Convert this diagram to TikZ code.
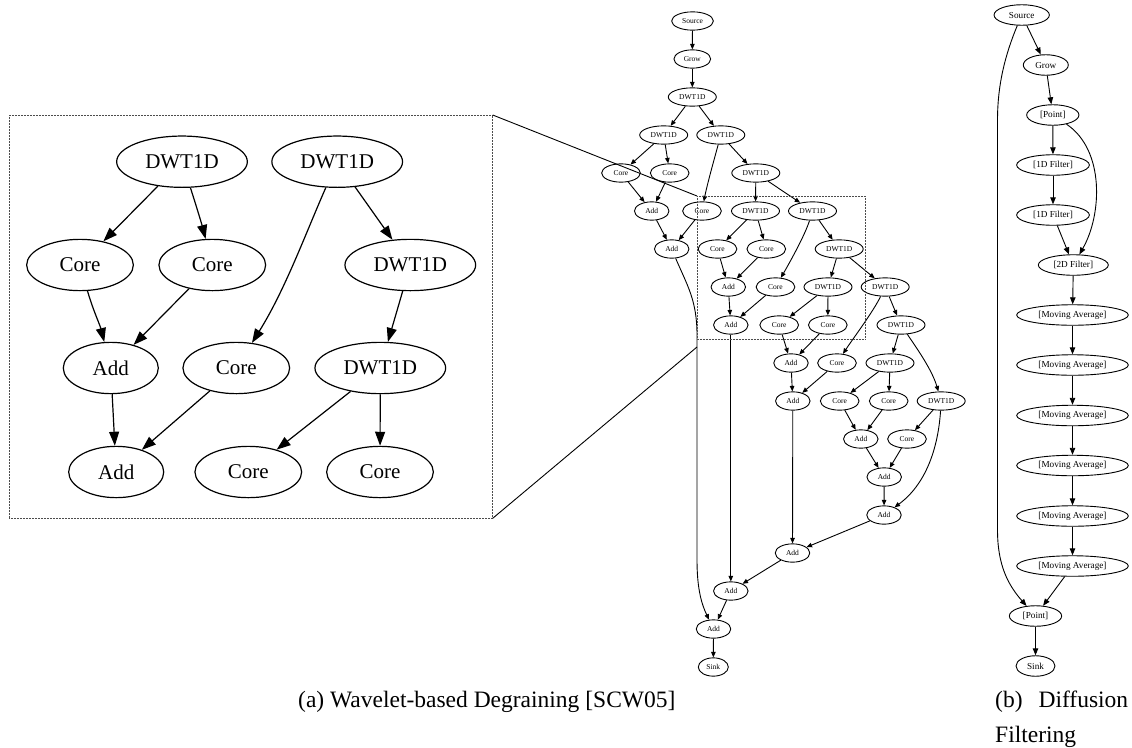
\documentclass[tikz,border=0pt]{standalone}
\usepackage{fontspec}
\setmainfont{Liberation Serif}
\usetikzlibrary{shapes.geometric,arrows.meta}

\begin{document}
\begin{tikzpicture}[x=1pt,y=-1pt,
  % ---- node looks ----
  nd/.style={ellipse,draw,line width=0.9pt,inner sep=0pt},
  sm/.style={nd,minimum height=18.3pt,font=\fontsize{7.5}{9}\selectfont},
  dwt/.style={sm,minimum width=48pt},
  core/.style={sm,minimum width=38.7pt},
  add/.style={sm,minimum width=34.5pt},
  rg/.style={nd,minimum height=20.5pt,font=\fontsize{9.2}{11}\selectfont},
  big/.style={nd,line width=1.2pt,minimum height=51.3pt,font=\fontsize{21}{25}\selectfont},
  bdwt/.style={big,minimum width=130.7pt},
  bcore/.style={big,minimum width=106.7pt},
  badd/.style={big,minimum width=95pt},
  % ---- connector looks ----
  e/.style={-{Triangle[length=5.5pt,width=4.5pt]},line width=0.9pt},
  re/.style={-{Triangle[length=7pt,width=5.5pt]},line width=0.9pt},
  ie/.style={-{Triangle[length=14pt,width=10pt]},line width=1.2pt},
  zframe/.style={draw=black!70,line width=1pt,dash pattern=on 0.8pt off 0.7pt},
  guide/.style={line width=0.9pt},
  captxt/.style={anchor=base west,inner sep=0pt,font=\fontsize{23.5}{28}\selectfont}
]
\useasboundingbox (0,0) rectangle (1132,747);

% ================= wavelet graph =================
\node[sm,minimum width=41.7pt] (src)  at (692.5,21)  {Source};
\node[sm,minimum width=36.7pt] (grow) at (692.3,59)  {Grow};
\node[dwt]  (d1)   at (692.3,97)  {DWT1D};
\node[dwt]  (d2a)  at (663.7,135) {DWT1D};
\node[dwt]  (d2b)  at (720.8,135) {DWT1D};
\node[core] (c3a)  at (621,173)   {Core};
\node[core] (c3b)  at (669.7,173) {Core};
\node[dwt]  (d3c)  at (755.8,173) {DWT1D};
\node[add]  (a4a)  at (651.7,211) {Add};
\node[core] (c4b)  at (702,211)   {Core};
\node[dwt]  (d4c)  at (755.5,211) {DWT1D};
\node[dwt]  (d4d)  at (812.5,211) {DWT1D};
\node[add]  (a5a)  at (671.7,249) {Add};
\node[core] (c5b)  at (717.5,249) {Core};
\node[core] (c5c)  at (766.3,249) {Core};
\node[dwt]  (d5d)  at (839.2,249) {DWT1D};
\node[add]  (a6a)  at (728.3,287) {Add};
\node[core] (c6b)  at (775.5,287) {Core};
\node[dwt]  (d6c)  at (828,287)   {DWT1D};
\node[dwt]  (d6d)  at (885.2,287) {DWT1D};
\node[add]  (a7a)  at (730.8,325) {Add};
\node[core] (c7b)  at (779.2,325) {Core};
\node[core] (c7c)  at (827.8,325) {Core};
\node[dwt]  (d7d)  at (901,325)   {DWT1D};
\node[add]  (a8a)  at (791,363)   {Add};
\node[core] (c8b)  at (837,363)   {Core};
\node[dwt]  (d8c)  at (890,363)   {DWT1D};
\node[add]  (a9a)  at (792.8,401) {Add};
\node[core] (c9b)  at (839.7,401) {Core};
\node[core] (c9c)  at (888.7,401) {Core};
\node[dwt]  (d9d)  at (941.2,401) {DWT1D};
\node[add]  (a10a) at (860.8,439) {Add};
\node[core] (c10b) at (907,439)   {Core};
\node[add]  (a11)  at (884.2,477) {Add};
\node[add]  (a12)  at (884,515)   {Add};
\node[add]  (a13)  at (792.5,553) {Add};
\node[add]  (a14)  at (730.8,591) {Add};
\node[add]  (a15)  at (713.5,629) {Add};
\node[sm,minimum width=30pt] (sink) at (713.3,667) {Sink};

\draw[e] (src) -- (grow);
\draw[e] (grow) -- (d1);
\draw[e] (d1) -- (d2a);
\draw[e] (d1) -- (d2b);
\draw[e] (d2a) -- (c3a);
\draw[e] (d2a) -- (c3b);
\draw[e] (d2b) -- (d3c);
\draw[e] (d2b) .. controls (714,160) and (707,185) .. (c4b);
\draw[e] (c3a) -- (a4a);
\draw[e] (c3b) -- (a4a);
\draw[e] (a4a) -- (a5a);
\draw[e] (c4b) -- (a5a);
\draw[e] (d3c) -- (d4c);
\draw[e] (d3c) -- (d4d);
\draw[e] (d4c) -- (c5b);
\draw[e] (d4c) -- (c5c);
\draw[e] (d4d) -- (d5d);
\draw[e] (d4d) .. controls (805,235) and (790,262) .. (c6b);
\draw[e] (c5b) -- (a6a);
\draw[e] (c5c) -- (a6a);
\draw[e] (a6a) -- (a7a);
\draw[e] (c6b) -- (a7a);
\draw[e] (d5d) -- (d6c);
\draw[e] (d5d) -- (d6d);
\draw[e] (d6c) -- (c7b);
\draw[e] (d6c) -- (c7c);
\draw[e] (d6d) -- (d7d);
\draw[e] (d6d) .. controls (873,312) and (852,340) .. (c8b);
\draw[e] (c7b) -- (a8a);
\draw[e] (c7c) -- (a8a);
\draw[e] (a8a) -- (a9a);
\draw[e] (c8b) -- (a9a);
\draw[e] (d7d) -- (d8c);
\draw[e] (d7d) .. controls (918,350) and (932,370) .. (d9d);
\draw[e] (d8c) -- (c9b);
\draw[e] (d8c) -- (c9c);
\draw[e] (c9b) -- (a10a);
\draw[e] (c9c) -- (a10a);
\draw[e] (d9d) -- (c10b);
\draw[e] (a10a) -- (a11);
\draw[e] (c10b) -- (a11);
\draw[e] (a11) -- (a12);
\draw[e] (d9d) .. controls (938,450) and (925,485) .. (a12);
\draw[e] (a12) -- (a13);
\draw[e] (a9a) -- (a13);
\draw[e] (a13) -- (a14);
\draw[e] (a7a) -- (a14);
\draw[e] (a14) -- (a15);
\draw[e] (a5a) .. controls (687,285) and (697,300) .. (697,335)
  -- (697,560) .. controls (697,590) and (702,605) .. (a15);
\draw[e] (a15) -- (sink);

% ================= diffusion graph =================
\node[rg,minimum width=55.3pt]  (rsrc)  at (1021.7,15)  {Source};
\node[rg,minimum width=45pt]    (rgrow) at (1045.8,65)  {Grow};
\node[rg,minimum width=52.3pt]  (rpt1)  at (1052.8,115) {[Point]};
\node[rg,minimum width=72.7pt]  (rf1)   at (1053,165)   {[1D Filter]};
\node[rg,minimum width=72.7pt]  (rf2)   at (1053,215)   {[1D Filter]};
\node[rg,minimum width=70pt]    (r2d)   at (1073.3,265) {[2D Filter]};
\node[rg,minimum width=111.7pt] (ma1)   at (1072.5,315) {[Moving Average]};
\node[rg,minimum width=111.7pt] (ma2)   at (1072.5,365) {[Moving Average]};
\node[rg,minimum width=111.7pt] (ma3)   at (1072.5,415.5) {[Moving Average]};
\node[rg,minimum width=111.7pt] (ma4)   at (1072.5,465.5) {[Moving Average]};
\node[rg,minimum width=111.7pt] (ma5)   at (1072.5,516) {[Moving Average]};
\node[rg,minimum width=111.7pt] (ma6)   at (1072.5,566) {[Moving Average]};
\node[rg,minimum width=52.3pt]  (rpt2)  at (1035.5,616) {[Point]};
\node[rg,minimum width=39pt]    (rsink) at (1035.5,666) {Sink};

\draw[re] (rsrc) -- (rgrow);
\draw[re] (rgrow) -- (rpt1);
\draw[re] (rpt1) -- (rf1);
\draw[re] (rf1) -- (rf2);
\draw[re] (rf2) -- (r2d);
\draw[re] (rpt1) .. controls (1105,150) and (1102,215) .. (r2d);
\draw[re] (r2d) -- (ma1);
\draw[re] (ma1) -- (ma2);
\draw[re] (ma2) -- (ma3);
\draw[re] (ma3) -- (ma4);
\draw[re] (ma4) -- (ma5);
\draw[re] (ma5) -- (ma6);
\draw[re] (ma6) -- (rpt2);
\draw[re] (rsrc) .. controls (1005,55) and (997.5,85) .. (997.5,120)
  -- (997.5,530) .. controls (997.5,565) and (1008,585) .. (rpt2);
\draw[re] (rpt2) -- (rsink);

% ================= magnified region =================
\coordinate (zTL) at (697,196);
\coordinate (zBR) at (865,339);
\coordinate (zL)  at (697,347);
\coordinate (bTL) at (9.3,115);
\coordinate (bTR) at (492.7,115);
\coordinate (bBR) at (492.7,518.3);
\draw[zframe] (zTL) rectangle (zBR);
\draw[zframe] (bTL) rectangle (bBR);
\draw[guide] (bTR) -- (zTL);
\draw[guide] (bBR) -- (zL);

\node[bdwt]  (iD1) at (182,161.7)   {DWT1D};
\node[bdwt]  (iD2) at (337.2,161.7) {DWT1D};
\node[bcore] (iC1) at (80,265)      {Core};
\node[bcore] (iC2) at (212.3,265)   {Core};
\node[bdwt]  (iD3) at (410.3,265)   {DWT1D};
\node[badd]  (iA1) at (110.8,368)   {Add};
\node[bcore] (iC3) at (236.3,368)   {Core};
\node[bdwt]  (iD4) at (380.3,368)   {DWT1D};
\node[badd]  (iA2) at (116.2,472)   {Add};
\node[bcore] (iC4) at (248.3,472)   {Core};
\node[bcore] (iC5) at (380,472)     {Core};

\draw[ie] (iD1) -- (iC1);
\draw[ie] (iD1) .. controls (196,205) and (202,225) .. (iC2);
\draw[ie] (iD2) .. controls (305,235) and (285,290) .. (iC3);
\draw[ie] (iD2) -- (iD3);
\draw[ie] (iC1) .. controls (93,310) and (100,325) .. (iA1);
\draw[ie] (iC2) -- (iA1);
\draw[ie] (iA1) -- (iA2);
\draw[ie] (iC3) -- (iA2);
\draw[ie] (iD3) -- (iD4);
\draw[ie] (iD4) -- (iC4);
\draw[ie] (iD4) -- (iC5);

% ================= captions =================
\node[captxt] (capa)  at (298,707) {(a) Wavelet-based Degraining [SCW05]};
\node[captxt] (capb)  at (995,707) {\makebox[133pt][s]{(b) Diffusion}};
\node[captxt] (capb2) at (995,742) {Filtering};
\end{tikzpicture}
\end{document}
